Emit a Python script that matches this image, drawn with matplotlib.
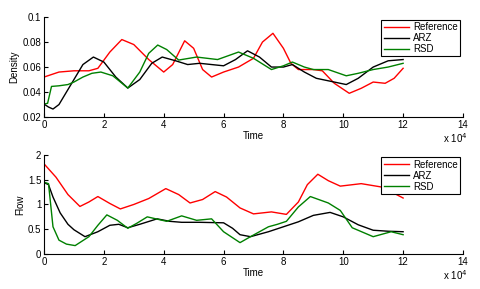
import numpy as np
import matplotlib
matplotlib.use('Agg')
from matplotlib import pyplot as plt

# time in units of 1e4
t_ref_d = [0, 0.5, 1.0, 1.5, 1.8, 2.2, 2.6, 3.0, 3.5, 4.0, 4.3, 4.7, 5.0, 5.3, 5.6, 6.0, 6.5, 7.0, 7.3, 7.65, 8.0, 8.25, 8.5, 9.0, 9.3, 9.7, 10.2, 10.6, 11.0, 11.4, 11.7, 12.0]
ref_d = [0.052, 0.056, 0.057, 0.057, 0.059, 0.072, 0.082, 0.078, 0.066, 0.056, 0.062, 0.081, 0.075, 0.058, 0.052, 0.056, 0.060, 0.067, 0.080, 0.087, 0.075, 0.063, 0.058, 0.058, 0.057, 0.047, 0.039, 0.043, 0.048, 0.047, 0.051, 0.059]

t_arz_d = [0, 0.15, 0.3, 0.5, 0.8, 1.0, 1.3, 1.65, 2.0, 2.4, 2.8, 3.2, 3.6, 3.95, 4.4, 4.8, 5.2, 5.6, 6.0, 6.4, 6.8, 7.2, 7.6, 8.0, 8.3, 8.7, 9.1, 9.5, 10.1, 10.5, 11.0, 11.5, 12.0]
arz_d = [0.0304, 0.028, 0.0264, 0.030, 0.042, 0.050, 0.062, 0.068, 0.064, 0.052, 0.0432, 0.050, 0.063, 0.068, 0.065, 0.062, 0.063, 0.062, 0.061, 0.066, 0.073, 0.068, 0.060, 0.060, 0.062, 0.056, 0.051, 0.049, 0.046, 0.051, 0.060, 0.065, 0.066]

t_rsd_d = [0, 0.12, 0.25, 0.5, 0.8, 1.0, 1.3, 1.6, 1.9, 2.3, 2.8, 3.2, 3.5, 3.8, 4.1, 4.5, 5.1, 5.8, 6.5, 7.0, 7.6, 8.0, 8.3, 8.7, 9.0, 9.5, 10.1, 10.5, 11.0, 11.5, 12.0]
rsd_d = [0.0304, 0.031, 0.0445, 0.045, 0.046, 0.048, 0.052, 0.055, 0.056, 0.053, 0.0432, 0.056, 0.071, 0.0776, 0.074, 0.0656, 0.068, 0.066, 0.072, 0.067, 0.058, 0.061, 0.064, 0.060, 0.058, 0.058, 0.053, 0.055, 0.058, 0.060, 0.063]

t_ref_f = [0, 0.4, 0.8, 1.2, 1.5, 1.8, 2.2, 2.55, 3.0, 3.5, 4.07, 4.5, 4.88, 5.3, 5.72, 6.1, 6.55, 7.0, 7.6, 8.1, 8.5, 8.8, 9.15, 9.5, 9.9, 10.6, 11.3, 12.0]
ref_f = [1.82, 1.55, 1.20, 0.96, 1.05, 1.16, 1.02, 0.91, 1.00, 1.12, 1.32, 1.20, 1.03, 1.10, 1.26, 1.15, 0.93, 0.81, 0.85, 0.80, 1.05, 1.40, 1.61, 1.48, 1.37, 1.42, 1.35, 1.13]

t_arz_f = [0, 0.15, 0.3, 0.54, 0.8, 1.0, 1.37, 1.8, 2.2, 2.5, 2.8, 3.2, 3.78, 4.2, 4.6, 5.2, 6.0, 6.3, 6.55, 6.9, 7.5, 8.0, 8.5, 9.0, 9.56, 10.0, 10.5, 11.0, 11.5, 12.0]
arz_f = [1.44, 1.40, 1.15, 0.83, 0.60, 0.49, 0.35, 0.45, 0.58, 0.60, 0.53, 0.60, 0.71, 0.66, 0.64, 0.64, 0.63, 0.52, 0.39, 0.35, 0.45, 0.55, 0.65, 0.78, 0.84, 0.75, 0.59, 0.48, 0.46, 0.45]

t_rsd_f = [0, 0.15, 0.3, 0.5, 0.75, 1.04, 1.5, 1.8, 2.1, 2.45, 2.8, 3.1, 3.45, 4.1, 4.6, 5.1, 5.6, 6.0, 6.55, 6.9, 7.5, 7.8, 8.1, 8.5, 8.9, 9.5, 9.9, 10.3, 11.0, 11.6, 12.0]
rsd_f = [1.45, 1.42, 0.55, 0.28, 0.20, 0.17, 0.35, 0.58, 0.79, 0.68, 0.52, 0.62, 0.75, 0.66, 0.77, 0.68, 0.71, 0.45, 0.23, 0.35, 0.55, 0.60, 0.66, 0.95, 1.16, 1.03, 0.88, 0.53, 0.35, 0.45, 0.39]

labels = ['Reference', 'ARZ', 'RSD']
colors = ['#ff0000', '#000000', '#008000']

plt.rcParams['font.family'] = ['Liberation Sans', 'DejaVu Sans']
plt.rcParams['font.size'] = 7

fig = plt.figure(figsize=(4.81, 2.89), dpi=100)
ax1 = fig.add_axes([0.0915, 0.595, 0.871, 0.346])
ax2 = fig.add_axes([0.0915, 0.121, 0.871, 0.343])

def style(ax, ylim, yticks, ylabel):
    ax.set_xlim(0, 14)
    ax.set_ylim(*ylim)
    ax.set_xticks([0, 2, 4, 6, 8, 10, 12, 14])
    ax.set_yticks(yticks)
    ax.set_xlabel('Time', labelpad=1)
    ax.set_ylabel(ylabel, labelpad=2)
    for s in ['top', 'right']:
        ax.spines[s].set_visible(False)
    ax.tick_params(direction='in', length=3, width=0.8, pad=2)
    leg = ax.legend(loc='upper right', bbox_to_anchor=(0.993, 0.975), fancybox=False,
                    edgecolor='black', framealpha=1, fontsize=7, handlelength=2.6,
                    borderpad=0.25, labelspacing=0.1, handletextpad=0.4, borderaxespad=0)
    leg.get_frame().set_linewidth(0.8)

data_d = [(t_ref_d, ref_d), (t_arz_d, arz_d), (t_rsd_d, rsd_d)]
data_f = [(t_ref_f, ref_f), (t_arz_f, arz_f), (t_rsd_f, rsd_f)]
for (t, y), lab, c in zip(data_d, labels, colors):
    ax1.plot(t, y, color=c, lw=1.0, label=lab)
for (t, y), lab, c in zip(data_f, labels, colors):
    ax2.plot(t, y, color=c, lw=1.0, label=lab)

style(ax1, (0.02, 0.1), [0.02, 0.04, 0.06, 0.08, 0.1], 'Density')
ax1.set_yticklabels(['0.02', '0.04', '0.06', '0.08', '0.1'])
style(ax2, (0, 2), [0, 0.5, 1, 1.5, 2], 'Flow')
ax2.set_yticklabels(['0', '0.5', '1', '1.5', '2'])

fig.text(0.921, 0.506, r'x 10$^{4}$', fontsize=7)
fig.text(0.921, 0.030, r'x 10$^{4}$', fontsize=7)

fig.savefig('out.png', dpi=100)
